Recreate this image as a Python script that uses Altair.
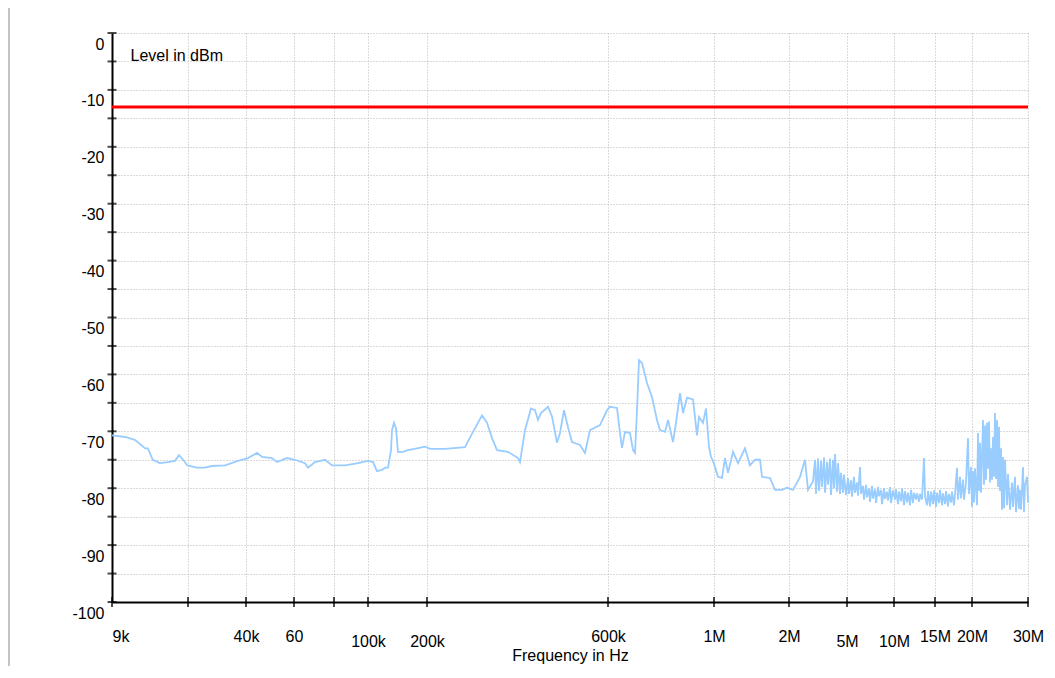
import altair as alt
import pandas as pd

# ---------------- data ----------------
tick_freqs = [9000, 20000, 40000, 60000, 80000, 100000, 200000, 600000,
              1000000, 2000000, 5000000, 10000000, 15000000, 20000000, 30000000]
tick_labels = ["9k", "", "40k", "60", "", "100k", "200k", "600k",
               "1M", "2M", "5M", "10M", "15M", "20M", "30M"]
low_row_labels = [100000, 200000, 5000000, 10000000]

level_ticks = [0, -5, -10, -15, -20, -25, -30, -35, -40, -45, -50,
               -55, -60, -65, -70, -75, -80, -85, -90, -95, -100]

limit_dbm = [-13]

trace_below_1mhz = [
    (9000, -70.7), (10900, -71.0), (12300, -71.5), (13800, -73.0), (14200, -73.0),
    (14900, -75.0), (15900, -75.6), (17100, -75.4), (18100, -75.2), (18700, -74.2),
    (19300, -75.0), (19900, -76.0), (23100, -76.4), (25900, -76.4), (28300, -76.1),
    (32800, -76.0), (37200, -75.2), (40800, -74.7), (44600, -73.8), (46700, -74.5),
    (50800, -74.7), (52900, -75.4), (57100, -74.7), (60500, -75.0), (65500, -75.6),
    (67000, -76.4), (70500, -75.4), (75500, -75.0), (79000, -76.0), (86500, -76.0),
    (94100, -75.6), (100000, -75.2), (108500, -75.4), (115300, -77.0), (123700, -76.8),
    (128800, -76.4), (133900, -76.4), (139000, -73.3), (140700, -69.8), (144100, -68.5),
    (147500, -69.5), (150800, -73.6), (159300, -73.6), (167800, -73.3), (183000, -73.0),
    (196600, -72.7), (206600, -73.1), (239800, -73.1), (284000, -72.8), (301700, -70.1),
    (321600, -67.2), (332600, -68.5), (343700, -71.2), (354700, -73.3), (379000, -73.6),
    (401100, -74.7), (405500, -75.4), (416600, -69.8), (429800, -66.0), (438700, -66.3),
    (445300, -68.0), (451900, -66.8), (467400, -65.7), (476300, -67.4), (487300, -72.0),
    (493900, -70.3), (502800, -66.3), (511600, -69.3), (520500, -71.9), (538100, -72.4),
    (549200, -73.8), (560200, -69.8), (582300, -68.9), (597800, -66.3), (607500, -65.7),
    (634000, -65.9), (645300, -70.3), (652800, -72.9), (664200, -70.1), (683000, -70.3),
    (694400, -73.3), (701900, -73.8), (709400, -66.3), (717000, -57.5), (728300, -58.0),
    (747200, -61.5), (766100, -64.0), (784900, -68.0), (796200, -69.8), (815100, -70.1),
    (826400, -68.0), (845300, -71.9), (856600, -68.5), (871700, -63.3), (883100, -66.8),
    (898100, -64.1), (920800, -64.4), (935900, -70.7), (943400, -67.5), (958500, -68.5),
    (969900, -66.0), (981200, -72.8), (988700, -74.5), (996300, -75.2),
]

trace_above_1mhz = [
    (1053300, -78.0), (1106700, -78.2), (1146700, -74.7), (1186700, -77.3), (1253300, -73.6),
    (1320000, -75.6), (1413300, -73.0), (1480000, -76.0), (1546700, -75.0), (1613300, -75.0),
    (1640000, -78.0), (1746700, -78.2), (1813300, -80.3), (1906700, -80.3), (1973300, -79.9),
    (2206900, -80.3), (2569000, -78.0), (2827600, -75.0), (2982800, -80.3), (3241400, -78.8),
    (3344800, -75.0), (3396500, -81.0), (3500000, -74.8), (3551700, -80.5), (3655200, -75.2),
    (3706900, -79.8), (3810300, -74.6), (3862100, -80.8), (3965500, -75.4), (4017200, -79.4),
    (4120700, -74.8), (4172400, -81.2), (4275900, -75.0), (4327600, -80.0), (4379300, -74.0),
    (4482800, -80.6), (4534500, -75.6), (4637900, -81.0), (4689600, -77.3), (4793100, -80.8),
    (4844800, -77.6), (4948300, -81.2), (5106400, -78.2), (5212800, -81.0), (5425500, -78.6),
    (5531900, -81.5), (5744700, -78.0), (5851100, -80.8), (6063800, -79.0), (6170200, -81.3),
    (6383000, -76.3), (6489400, -81.0), (6702100, -79.6), (6808500, -82.0), (7021300, -79.4),
    (7127700, -81.6), (7340400, -80.0), (7446800, -82.4), (7659600, -79.6), (7766000, -81.8),
    (7978700, -80.2), (8085100, -82.6), (8297900, -79.8), (8404300, -81.4), (8617000, -80.3),
    (8723400, -82.8), (8936200, -80.0), (9042600, -81.9), (9255300, -80.6), (9361700, -82.2),
    (9574500, -79.8), (9680900, -82.6), (9893600, -80.4), (10122000, -82.0), (10243900, -80.2),
    (10487800, -82.8), (10609800, -80.6), (10853700, -82.3), (10975600, -80.0), (11219500, -83.0),
    (11341500, -80.5), (11585400, -82.5), (11707300, -80.8), (11951200, -83.0), (12073200, -80.3),
    (12317100, -82.6), (12439000, -80.8), (12682900, -82.0), (12804900, -80.9), (13048800, -82.4),
    (13170700, -81.0), (13414600, -82.0), (13658500, -74.7), (13780500, -81.5), (14024400, -83.0),
    (14146300, -80.5), (14390200, -83.2), (14512200, -80.6), (14756100, -82.8), (14878000, -80.4),
    (15135100, -83.3), (15270300, -80.8), (15540500, -82.6), (15675700, -80.3), (15945900, -83.0),
    (16081100, -80.9), (16351400, -82.8), (16486500, -80.5), (16756800, -83.2), (16891900, -81.0),
    (17162200, -82.5), (17297300, -80.6), (17567600, -83.0), (17702700, -81.2), (17973000, -76.4),
    (18108100, -82.0), (18378400, -78.0), (18513500, -81.8), (18783800, -78.5), (18918900, -82.0),
    (19189200, -79.0), (19459500, -71.2), (19594600, -81.0), (19864900, -76.3), (20000000, -83.3),
    (20178600, -77.0), (20357100, -82.5), (20535700, -76.5), (20892900, -83.0), (21071400, -70.3),
    (21250000, -80.5), (21428600, -72.0), (21607100, -80.8), (21964300, -68.0), (22142900, -79.4),
    (22321400, -69.0), (22500000, -78.5), (22678600, -68.5), (22857100, -76.6), (23035700, -68.3),
    (23214300, -79.0), (23392900, -73.0), (23571400, -78.5), (23750000, -71.0), (23928600, -78.0),
    (24107100, -66.8), (24285700, -78.4), (24464300, -68.0), (24642900, -79.8), (24821400, -69.2),
    (25000000, -80.5), (25178600, -73.0), (25357100, -83.8), (25535700, -74.5), (25714300, -83.5),
    (25892900, -75.0), (26250000, -83.0), (26428600, -77.5), (26785700, -83.8), (27142900, -79.0),
    (27321400, -83.3), (27678600, -78.0), (27857100, -84.2), (28214300, -79.5), (28392900, -83.6),
    (28571400, -80.3), (28750000, -83.8), (29107100, -76.3), (29285700, -84.2), (29464300, -79.5),
    (29821400, -78.0), (30000000, -82.5),
]

# ---------------- layout ----------------
W, H = 916, 569
FONT = "Liberation Sans"
# pixel offsets of each labelled frequency along the (non-uniform) instrument axis
axis_stops = [0, 76, 134, 182, 222, 256, 315, 496, 602, 677, 735, 782, 823, 860, 916]

trace_df = pd.DataFrame(trace_below_1mhz + trace_above_1mhz, columns=["freq", "level"])
limit_df = pd.DataFrame({"level": limit_dbm})
ytick_df = pd.DataFrame({"level": level_ticks})
xtick_df = pd.DataFrame({"freq": tick_freqs})

label_expr = "".join(
    f"datum.value == {f} ? '{l}' : " for f, l in zip(tick_freqs, tick_labels)
) + "''"
low_test = "indexof([" + ",".join(str(v) for v in low_row_labels) + "], datum.value) >= 0"
first_test = f"datum.value == {tick_freqs[0]}"

x_scale = alt.Scale(type="linear", domain=tick_freqs, range=axis_stops, nice=False, zero=False)
y_scale = alt.Scale(domain=[-100, 0], nice=False, zero=False)

x_axis = alt.Axis(
    values=tick_freqs, labelExpr=label_expr, title="Frequency in Hz",
    grid=True, gridColor="#b4b4b4", gridDash=[1, 2], gridWidth=1,
    ticks=False, domain=True, domainColor="#000000", domainWidth=2,
    labelFont=FONT, labelFontSize=16, labelColor="#000000", labelFlush=False,
    labelPadding=39, labelOverlap=False,
    labelAlign={"condition": {"test": first_test, "value": "left"}, "value": "center"},
    labelBaseline={"condition": {"test": low_test, "value": "middle"}, "value": "alphabetic"},
    titleFont=FONT, titleFontSize=16, titleFontWeight="normal", titleColor="#000000",
    titleY=58, titleBaseline="alphabetic",
)
y_axis = alt.Axis(
    values=level_ticks, labelExpr="datum.value % 10 == 0 ? '' + datum.value : ''",
    title="Level in dBm",
    grid=True, gridColor="#b4b4b4", gridDash=[1, 2], gridWidth=1,
    ticks=False, domain=True, domainColor="#000000", domainWidth=2,
    labelFont=FONT, labelFontSize=16, labelColor="#000000", labelAlign="right",
    labelBaseline="alphabetic", labelOffset=16, labelPadding=8, labelOverlap=False,
    labelFlush=False,
    titleFont=FONT, titleFontSize=16, titleFontWeight="normal", titleColor="#000000",
    titleAngle=0, titleAlign="left", titleBaseline="middle", titleX=18, titleY=22,
)

X = alt.X("freq:Q", scale=x_scale, axis=x_axis)
Y = alt.Y("level:Q", scale=y_scale, axis=y_axis)

trace = alt.Chart(trace_df).mark_line(color="#99ccff", strokeWidth=1.8).encode(x=X, y=Y)
limit = alt.Chart(limit_df).mark_rule(color="#ff0000", strokeWidth=3).encode(y=Y)
yticks = alt.Chart(ytick_df).mark_tick(
    orient="horizontal", color="#000000", size=9, thickness=2
).encode(y=Y, x=alt.value(0))
xticks = alt.Chart(xtick_df).mark_tick(
    orient="vertical", color="#000000", size=10, thickness=2
).encode(x=X, y=alt.value(H))
frame = alt.Chart(limit_df).mark_rule(color="#c4c4c4", strokeWidth=2).encode(
    x=alt.value(-103), y=alt.value(-25), y2=alt.value(H + 64)
)

chart = alt.layer(trace, limit, yticks, xticks, frame).properties(
    width=W, height=H,
    autosize=alt.AutoSizeParams(type="none"),
    padding={"left": 104, "top": 25, "right": 19, "bottom": 64},
    background="#ffffff",
).configure_view(stroke=None)

chart.save("out.html", embed_options={"renderer": "svg", "actions": False})
